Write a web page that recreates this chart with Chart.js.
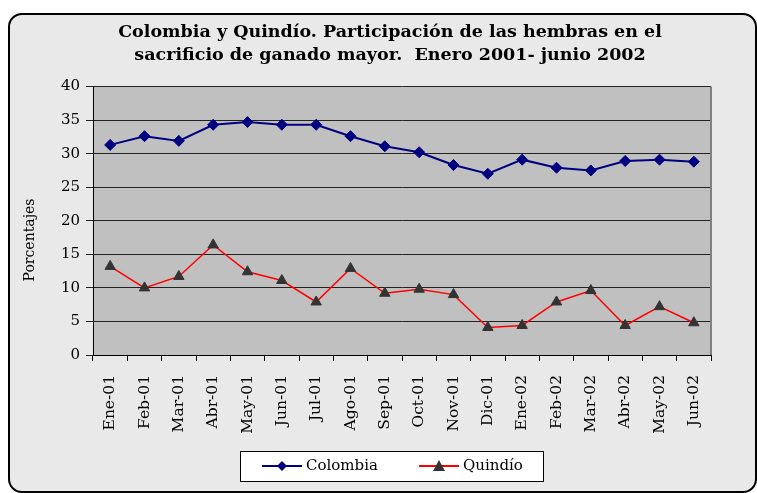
<!DOCTYPE html>
<html><head><meta charset="utf-8">
<script src="https://cdn.jsdelivr.net/npm/chart.js@4.4.0/dist/chart.umd.min.js"></script>
<style>
html,body{margin:0;padding:0;background:#ffffff;}
#wrap{position:relative;width:757px;height:493px;overflow:hidden;background:#ffffff;}
#frame{position:absolute;left:8px;top:13px;width:749px;height:480px;border:2px solid #000;border-radius:14px;box-sizing:border-box;background:#e9e9e9;}
#c{position:absolute;left:0;top:0;}
</style></head><body>
<div id="wrap"><div id="frame"></div><canvas id="c" width="757" height="493" style="width:757px;height:493px"></canvas></div>
<script>
const categories = ['Ene-01','Feb-01','Mar-01','Abr-01','May-01','Jun-01','Jul-01','Ago-01','Sep-01','Oct-01','Nov-01','Dic-01','Ene-02','Feb-02','Mar-02','Abr-02','May-02','Jun-02'];
const colombia = [31.3, 32.6, 31.9, 34.3, 34.7, 34.3, 34.3, 32.6, 31.1, 30.2, 28.3, 27.0, 29.1, 27.9, 27.5, 28.9, 29.1, 28.8];
const quindio = [13.2, 10.0, 11.7, 16.4, 12.4, 11.1, 7.9, 12.9, 9.2, 9.8, 9.0, 4.1, 4.4, 7.9, 9.6, 4.4, 7.2, 4.8];
const yTickValues = [0, 5, 10, 15, 20, 25, 30, 35, 40];
const titleLines = ['Colombia y Quindío. Participación de las hembras en el', 'sacrificio de ganado mayor.  Enero 2001- junio 2002'];
const yTitle = 'Porcentajes';

const FONT = "'DejaVu Serif', serif";

function drawMarker(ctx, kind, cx, cy) {
  if (kind === 'rectRot') {
    ctx.fillStyle = '#000080';
    ctx.beginPath(); ctx.moveTo(cx, cy - 5); ctx.lineTo(cx + 5, cy); ctx.lineTo(cx, cy + 5); ctx.lineTo(cx - 5, cy); ctx.closePath(); ctx.fill();
  } else {
    ctx.fillStyle = '#333333';
    ctx.beginPath(); ctx.moveTo(cx, cy - 6); ctx.lineTo(cx + 6, cy + 5); ctx.lineTo(cx - 6, cy + 5); ctx.closePath(); ctx.fill();
  }
}

const decoPlugin = {
  id: 'decoPlugin',
  beforeDraw(chart) {
    const {ctx, chartArea: a} = chart;
    ctx.save();
    ctx.fillStyle = '#c0c0c0';
    ctx.fillRect(a.left, a.top, a.right - a.left, a.bottom - a.top);
    // y-axis title
    ctx.translate(30, 240);
    ctx.rotate(-Math.PI / 2);
    ctx.fillStyle = '#000';
    ctx.font = "14px " + FONT;
    ctx.textAlign = 'center';
    ctx.textBaseline = 'middle';
    ctx.fillText(yTitle, 0, 0);
    ctx.restore();
  },
  afterDraw(chart) {
    const {ctx, chartArea: a} = chart;
    ctx.save();
    ctx.strokeStyle = '#808080';
    ctx.lineWidth = 2;
    ctx.beginPath(); ctx.moveTo(a.right, a.top); ctx.lineTo(a.right, a.bottom); ctx.stroke();
    // legend
    const bx = 240, by = 451, bw = 303, bh = 30, cy = by + bh / 2;
    ctx.fillStyle = '#ffffff';
    ctx.fillRect(bx, by, bw, bh);
    ctx.strokeStyle = '#000';
    ctx.lineWidth = 1;
    ctx.strokeRect(bx + 0.5, by + 0.5, bw, bh);
    const starts = [262, 419];
    ctx.font = "15px " + FONT;
    ctx.textBaseline = 'middle';
    ctx.textAlign = 'left';
    chart.data.datasets.forEach((ds, i) => {
      const x0 = starts[i];
      ctx.strokeStyle = ds.borderColor;
      ctx.lineWidth = 2;
      ctx.beginPath(); ctx.moveTo(x0, cy); ctx.lineTo(x0 + 40, cy); ctx.stroke();
      drawMarker(ctx, ds.pointStyle, x0 + 20, cy);
      ctx.fillStyle = '#000';
      ctx.fillText(ds.label, x0 + 44, cy);
    });
    ctx.restore();
  }
};

new Chart(document.getElementById('c'), {
  type: 'line',
  data: {
    labels: categories,
    datasets: [
      { label: 'Colombia', data: colombia, borderColor: '#000080', backgroundColor: '#000080', borderWidth: 2,
        pointStyle: 'rectRot', pointRadius: 5.5, pointBorderWidth: 1, pointBackgroundColor: '#000080', pointBorderColor: '#000080', tension: 0 },
      { label: 'Quindío', data: quindio, borderColor: '#ff0000', backgroundColor: '#333333', borderWidth: 1.5,
        pointStyle: 'triangle', pointRadius: 6, pointBorderWidth: 1, pointBackgroundColor: '#333333', pointBorderColor: '#333333', tension: 0 }
    ]
  },
  options: {
    responsive: false,
    animation: false,
    devicePixelRatio: 1,
    layout: { padding: { left: 39, right: 16, top: 18, bottom: 38 } },
    plugins: {
      title: { display: true, text: titleLines, color: '#000', font: { family: FONT, size: 17.5, weight: 'bold', lineHeight: 1.3 }, padding: { top: 3, bottom: 20 } },
      legend: { display: false },
      tooltip: { enabled: false }
    },
    scales: {
      x: {
        type: 'category', offset: true,
        afterFit(s) { s.height = 100; },
        grid: { display: true, offset: true, drawOnChartArea: false, drawTicks: true, tickLength: 6, color: '#000' },
        border: { display: true, color: '#000', width: 1 },
        ticks: { color: '#000', font: { family: FONT, size: 15.5 }, minRotation: 90, maxRotation: 90, autoSkip: false, padding: 14 }
      },
      y: {
        min: 0, max: 40,
        afterFit(s) { s.width = 54; },
        afterBuildTicks(s) { s.ticks = yTickValues.map(v => ({ value: v })); },
        grid: { color: '#222', lineWidth: 1, tickLength: 7, drawTicks: true },
        border: { display: true, color: '#000', width: 1 },
        ticks: { color: '#000', font: { family: FONT, size: 15 }, padding: 6 },
        title: { display: false }
      },
      spacer: {
        type: 'linear', position: 'right', display: true,
        afterFit(s) { s.width = 30; },
        grid: { display: false, drawOnChartArea: false },
        border: { display: false },
        ticks: { display: false }
      }
    }
  },
  plugins: [decoPlugin]
});
</script>
</body></html>
